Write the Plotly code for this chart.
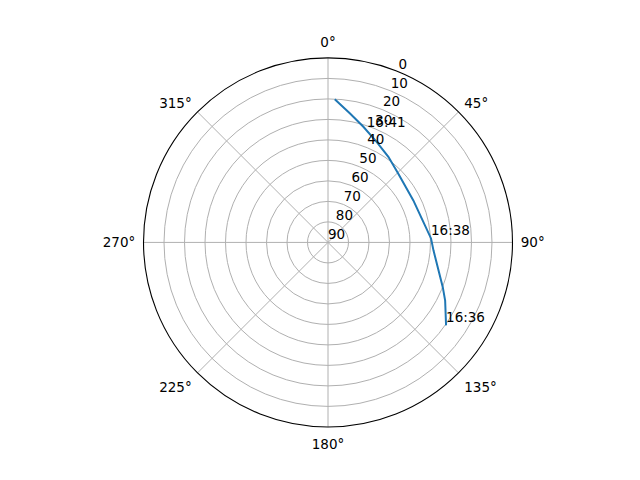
import plotly.graph_objects as go

# sky track of the pass (azimuth deg, elevation deg)
azimuth = [125.1, 116.4, 111.3, 94.3, 87.8, 75.8, 63.8, 45.5, 35.2, 25.8, 17.0, 9.7, 2.7]
elevation = [19.6, 26.2, 29.9, 38.4, 39.7, 42.8, 43.6, 42.0, 38.9, 35.5, 31.0, 26.2, 20.1]

# time labels along the track
label_text = ['16:36', '16:38', '16:41']
label_az = [125.1, 87.8, 19.0]
label_el = [19.6, 39.7, 32.0]

r_ticks = [0, 10, 20, 30, 40, 50, 60, 70, 80, 90]
r_label_angle = 22.5
theta_ticks = [0, 45, 90, 135, 180, 225, 270, 315]

fig = go.Figure()
fig.add_trace(go.Scatterpolar(
    r=elevation, theta=azimuth, mode='lines',
    line=dict(color='#1f77b4', width=2),
    showlegend=False, hoverinfo='skip'))
fig.add_trace(go.Scatterpolar(
    r=label_el, theta=label_az, mode='text', text=label_text,
    textposition='top right',
    textfont=dict(family='DejaVu Sans', size=13.5, color='black'),
    showlegend=False, hoverinfo='skip'))
# radial tick labels, matplotlib style (sitting at 22.5 deg)
fig.add_trace(go.Scatterpolar(
    r=r_ticks, theta=[r_label_angle] * len(r_ticks), mode='text',
    text=[str(v) for v in r_ticks], textposition='top right',
    textfont=dict(family='DejaVu Sans', size=13.5, color='black'),
    showlegend=False, hoverinfo='skip', cliponaxis=False))

fig.update_layout(
    width=640, height=480,
    margin=dict(l=0, r=0, t=0, b=0),
    paper_bgcolor='white',
    font=dict(family='DejaVu Sans', size=13.5, color='black'),
    polar=dict(
        domain=dict(x=[0.2117, 0.7883], y=[0.1273, 0.8960]),
        bgcolor='white',
        angularaxis=dict(
            rotation=90, direction='clockwise',
            tickmode='array', tickvals=theta_ticks,
            ticktext=[f'{t}°' for t in theta_ticks],
            ticks='outside', ticklen=5, tickcolor='rgba(0,0,0,0)',
            showline=True, linecolor='black', linewidth=1.1,
            gridcolor='#b0b0b0', gridwidth=1.1,
        ),
        radialaxis=dict(
            range=[90, 0], angle=67.5,
            tickmode='array', tickvals=r_ticks,
            showticklabels=False,
            showline=False, ticks='',
            gridcolor='#b0b0b0', gridwidth=1.1,
        ),
    ),
)

fig.write_html('out.html')
